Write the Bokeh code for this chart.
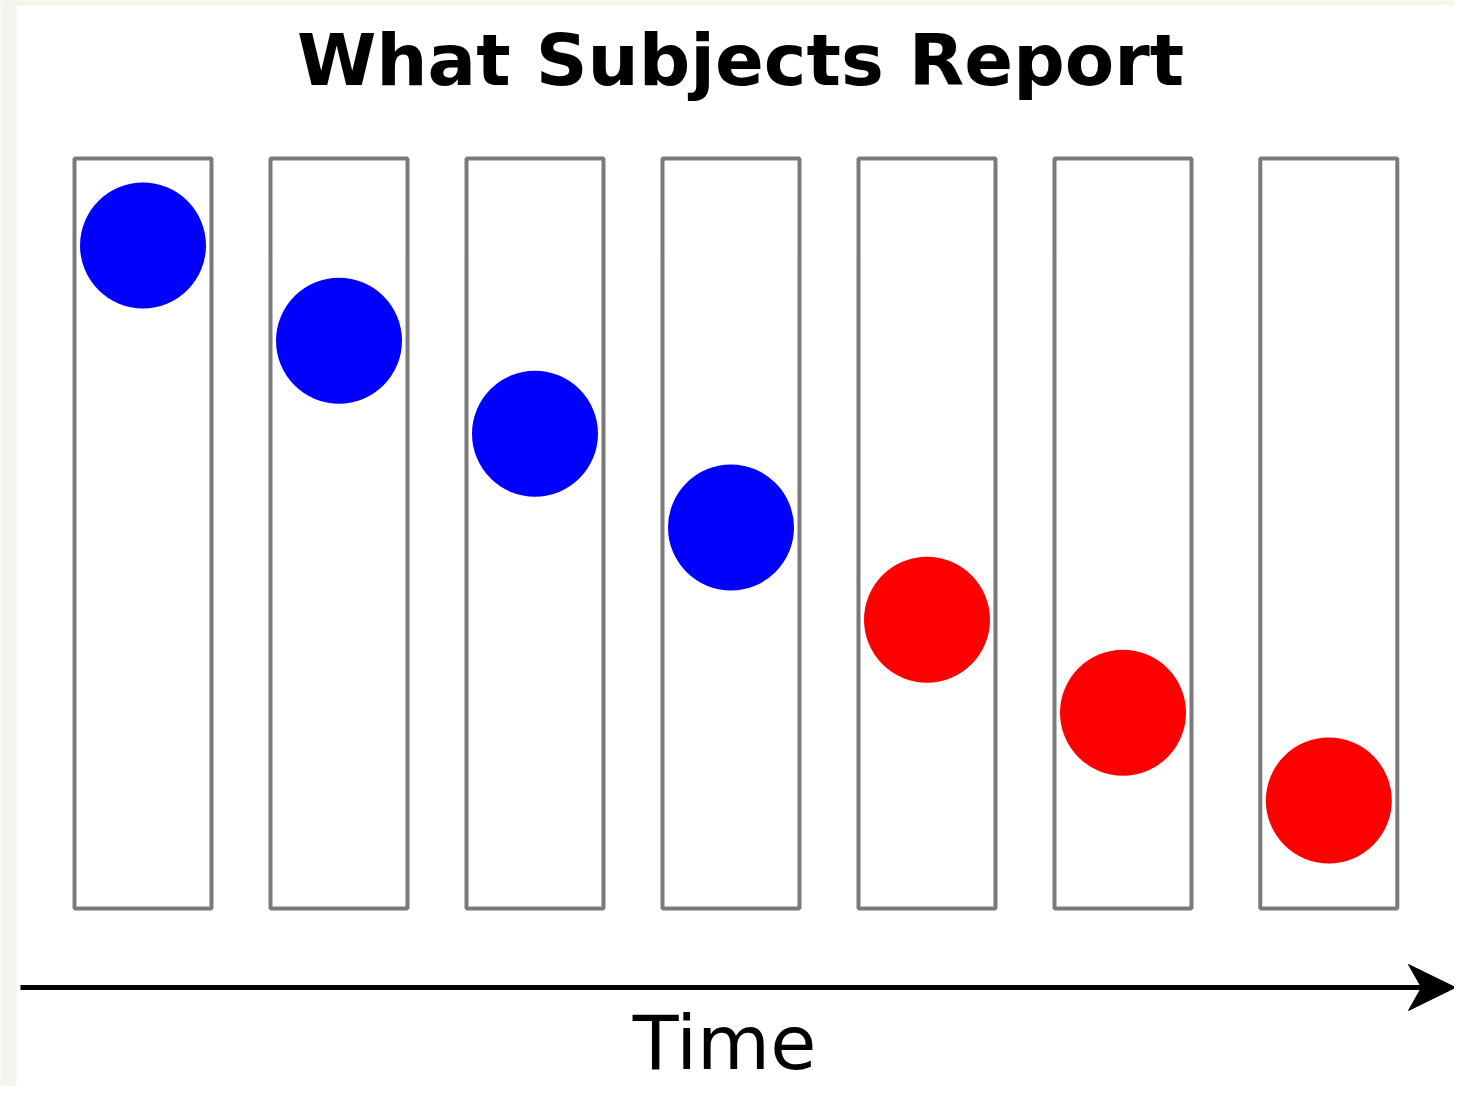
from bokeh.plotting import figure
from bokeh.models import Range1d, Label
from bokeh.embed import file_html
from bokeh.resources import INLINE

# ---- data ----
time_steps = [0, 1, 2, 3, 4, 5, 6.05]              # time index of each frame
reported_position = [0.884, 0.757, 0.633, 0.508, 0.385, 0.261, 0.144]  # fraction of frame height
dot_colors = ["#0000ff", "#0000ff", "#0000ff", "#0000ff", "#ff0000", "#ff0000", "#ff0000"]
title_text = "What Subjects Report"
axis_label = "Time"

# ---- layout (pixel mapping of the reference) ----
W, H = 1454, 1086
OFF = 0
X0_PX, STEP_PX = 142.5, 196.0
Y0_PX, UNIT_PX = 908.0, 750.0


def px_to_x(px):
    return (px - X0_PX) / STEP_PX


def px_to_y(py):
    return (Y0_PX - py) / UNIT_PX


p = figure(width=W, height=H,
           x_range=Range1d(px_to_x(OFF), px_to_x(OFF + W)),
           y_range=Range1d(px_to_y(OFF + H), px_to_y(OFF)),
           output_backend="svg", toolbar_location=None, min_border=0,
           x_axis_type=None, y_axis_type=None)
p.grid.visible = False
p.outline_line_color = None
p.background_fill_color = "#f3f4ec"
p.border_fill_color = "#f3f4ec"

# white canvas area with light margins
p.quad(left=[px_to_x(16)], right=[px_to_x(1459)], top=[px_to_y(5)], bottom=[px_to_y(1110)],
       fill_color="white", line_color=None)
p.quad(left=[px_to_x(1459)], right=[px_to_x(1475)], top=[px_to_y(0)], bottom=[px_to_y(1110)],
       fill_color="#e8edd9", line_color=None)

# frames
p.rect(x=time_steps, y=[0.5] * len(time_steps), width=137 / STEP_PX, height=1.0,
       fill_color="white", line_color="#7a7a7a", line_width=4)

# reported dots
p.scatter(x=time_steps, y=reported_position, marker="circle", size=126,
          fill_color=dot_colors, line_color=None)

# time arrow
ay = px_to_y(987)
p.line(x=[px_to_x(20), px_to_x(1425)], y=[ay, ay], line_color="black", line_width=5)
p.patch(x=[px_to_x(1455), px_to_x(1408), px_to_x(1421), px_to_x(1408)],
        y=[ay, px_to_y(964), ay, px_to_y(1010)],
        fill_color="black", line_color="black", line_width=1)

p.add_layout(Label(x=px_to_x(740), y=px_to_y(85 - 26), text=title_text,
                   text_align="center", text_baseline="alphabetic",
                   text_font="DejaVu Sans", text_font_style="bold",
                   text_font_size="72px", text_color="black"))
p.add_layout(Label(x=px_to_x(724), y=px_to_y(1070 - 28), text=axis_label,
                   text_align="center", text_baseline="alphabetic",
                   text_font="DejaVu Sans", text_font_style="normal",
                   text_font_size="75px", text_color="black"))

open("out.html", "w").write(file_html(p, INLINE))
